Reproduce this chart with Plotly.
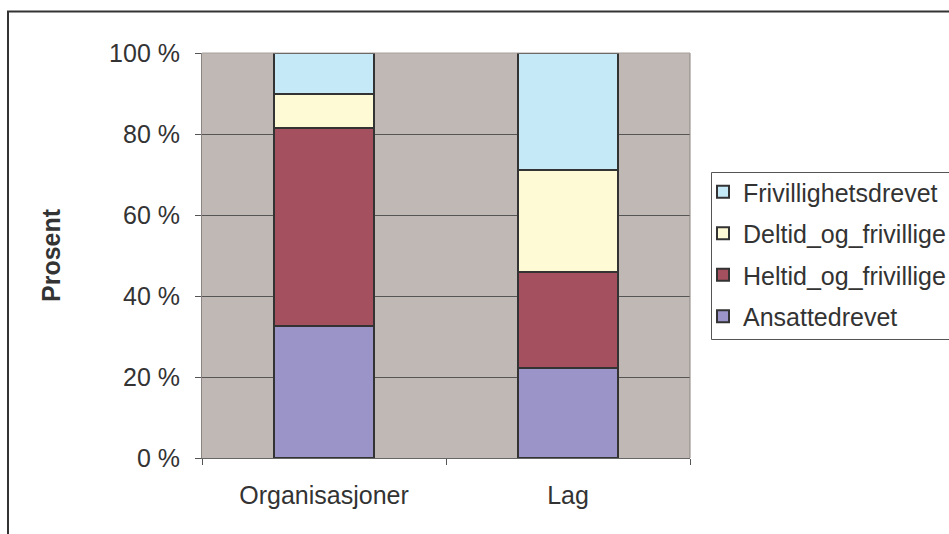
import plotly.graph_objects as go

categories = ["Organisasjoner", "Lag"]
series_names = ["Ansattedrevet", "Heltid_og_frivillige", "Deltid_og_frivillige", "Frivillighetsdrevet"]
ansattedrevet = [32.6, 22.2]
heltid_og_frivillige = [48.9, 23.7]
deltid_og_frivillige = [8.4, 25.2]
frivillighetsdrevet = [10.1, 28.9]
y_ticks = [0, 20, 40, 60, 80, 100]
y_ticklabels = ["0 %", "20 %", "40 %", "60 %", "80 %", "100 %"]

colors = ["#9A94C8", "#A5505F", "#FFFAD6", "#C6E9F8"]
values = [ansattedrevet, heltid_og_frivillige, deltid_og_frivillige, frivillighetsdrevet]

L, R, T, B = 202, 690, 53, 458
W, H = 949, 534
pw, ph = R - L, B - T

def px(x):
    return (x - L) / pw

def py(y):
    return (B - y) / ph

fig = go.Figure()
for i, (name, vals, col) in enumerate(zip(series_names, values, colors)):
    fig.add_trace(go.Bar(
        x=categories, y=vals, name=name, legendgroup=name, legendrank=10 - i,
        marker=dict(color=col, line=dict(color="#333333", width=2)),
    ))

font = "Liberation Sans, Arial, sans-serif"
FS = 25
fig.update_layout(
    width=W, height=H,
    barmode="stack",
    bargap=0.594,
    paper_bgcolor="white",
    plot_bgcolor="#C0B8B5",
    margin=dict(l=L, r=W - R, t=T, b=H - B, autoexpand=False),
    font=dict(family=font, size=FS, color="#333333"),
    showlegend=True,
    legend=dict(
        x=px(703), y=py(169), xanchor="left", yanchor="top",
        traceorder="grouped", tracegroupgap=6,
        borderwidth=0, bgcolor="rgba(0,0,0,0)",
        font=dict(family=font, size=FS, color="#333333"),
    ),
    xaxis=dict(
        tickson="boundaries", ticks="outside", ticklen=6, tickcolor="#555555",
        showline=True, linecolor="#666666", linewidth=1, mirror=False,
        showgrid=False, tickfont=dict(size=FS), ticklabelstandoff=15,
    ),
    yaxis=dict(
        range=[0, 100], tickvals=y_ticks, ticktext=y_ticklabels,
        ticks="outside", ticklen=6, tickcolor="#555555",
        showline=True, linecolor="#8C8480", linewidth=1,
        showgrid=True, gridcolor="#555555", gridwidth=1,
        tickfont=dict(size=FS), ticklabelstandoff=10, zeroline=False,
    ),
    annotations=[dict(
        text="<b>Prosent</b>", x=px(51), y=py(255), xref="paper", yref="paper",
        xanchor="center", yanchor="middle",
        textangle=-90, showarrow=False, font=dict(size=FS, color="#333333"),
    )],
    shapes=[
        dict(type="rect", xref="paper", yref="paper",
             x0=px(8), x1=px(990), y0=py(11.5), y1=py(570),
             line=dict(color="#333333", width=2), layer="below"),
        dict(type="rect", xref="paper", yref="paper",
             x0=px(711.5), x1=px(1000), y0=py(172.5), y1=py(339.5),
             line=dict(color="#555555", width=1), fillcolor="white", layer="below"),
        dict(type="line", xref="paper", yref="paper", x0=1, x1=1, y0=0, y1=1,
             line=dict(color="#8C8480", width=1)),
        dict(type="line", xref="paper", yref="paper", x0=0, x1=1, y0=1, y1=1,
             line=dict(color="#A8A09C", width=1)),
    ],
)
fig.write_html("out.html", config={"displayModeBar": False},
               post_script="document.body.style.margin='0';")
